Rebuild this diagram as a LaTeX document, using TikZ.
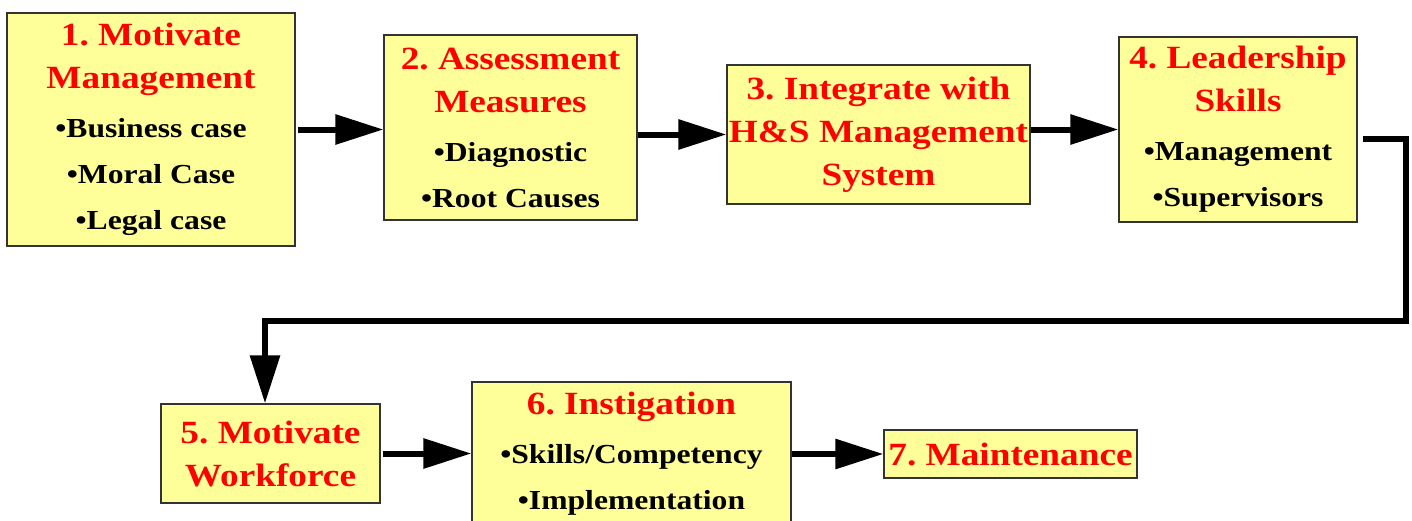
\documentclass[tikz,border=0pt]{standalone}
\usepackage{fontspec}
\setmainfont{Liberation Serif}[BoldFont={Liberation Serif Bold}, FakeStretch=1.15]
\usepackage{tikz}
\usetikzlibrary{arrows.meta,calc}
\definecolor{boxfill}{HTML}{FFFF99}
\definecolor{boxline}{HTML}{333333}
\definecolor{titlered}{HTML}{FF0000}
\newcommand{\steptitle}[1]{{\color{titlered}\fontsize{32.4}{43}\selectfont #1}}

\begin{document}
\begin{tikzpicture}[x=1pt,y=1pt,yscale=-1,xscale=1,
        stepbox/.style={draw=boxline, line width=1.2pt, fill=boxfill, inner sep=0pt, align=center,
            font=\rmfamily\bfseries\frenchspacing\fontsize{27.5}{43}\selectfont},
        flow/.style={line width=6pt, -{Triangle[length=48pt,width=29pt]}}]
        \useasboundingbox (0,0) rectangle (1412,520);
        % Steps, top row
        \node[stepbox, minimum width=288pt, minimum height=233pt] (motivmgmt) at (151,129.5)
            {\steptitle{1. Motivate}\\\steptitle{Management}\\[6pt]•Business case\\[3pt]•Moral Case\\[3pt]•Legal case};
        \node[stepbox, minimum width=253pt, minimum height=185pt] (assess) at (510.5,127.5)
            {\steptitle{2. Assessment}\\\steptitle{Measures}\\[6pt]•Diagnostic\\[3pt]•Root Causes};
        \node[stepbox, minimum width=303pt, minimum height=139pt] (integrate) at (878.5,134.5)
            {\steptitle{3. Integrate with}\\\steptitle{H\&S Management}\\\steptitle{System}};
        \node[stepbox, minimum width=238pt, minimum height=185pt] (leader) at (1238,129.5)
            {\steptitle{4. Leadership}\\\steptitle{Skills}\\[6pt]•Management\\[3pt]•Supervisors};
        % Steps, bottom row
        \node[stepbox, minimum width=219pt, minimum height=99pt] (motivwork) at (270.5,453.5)
            {\steptitle{5. Motivate}\\\steptitle{Workforce}};
        \node[stepbox, minimum width=319pt, minimum height=143pt] (instig) at (631.5,453.5)
            {\steptitle{6. Instigation}\\[6pt]•Skills/Competency\\[3pt]•Implementation};
        \node[stepbox, minimum width=253pt, minimum height=48pt] (maint) at (1010.5,454)
            {\steptitle{7. Maintenance}};
        % Connectors
        \coordinate (turnA) at (1406,139);
        \coordinate (turnB) at (1406,321);
        \coordinate (turnC) at (265,321);
        \draw[flow] ([xshift=2pt]motivmgmt.east) -- (motivmgmt.east -| assess.west);
        \draw[flow] (assess.east |- integrate.west) -- (integrate.west);
        \draw[flow] (integrate.east |- leader.west) -- (leader.west);
        \draw[flow] ([xshift=5pt]leader.east |- turnA) -- (turnA) -- (turnB) -- (turnC) -- (turnC |- motivwork.north);
        \draw[flow] ([xshift=2pt]motivwork.east) -- (motivwork.east -| instig.west);
        \draw[flow] (instig.east |- maint.west) -- (maint.west);
\end{tikzpicture}
\end{document}
